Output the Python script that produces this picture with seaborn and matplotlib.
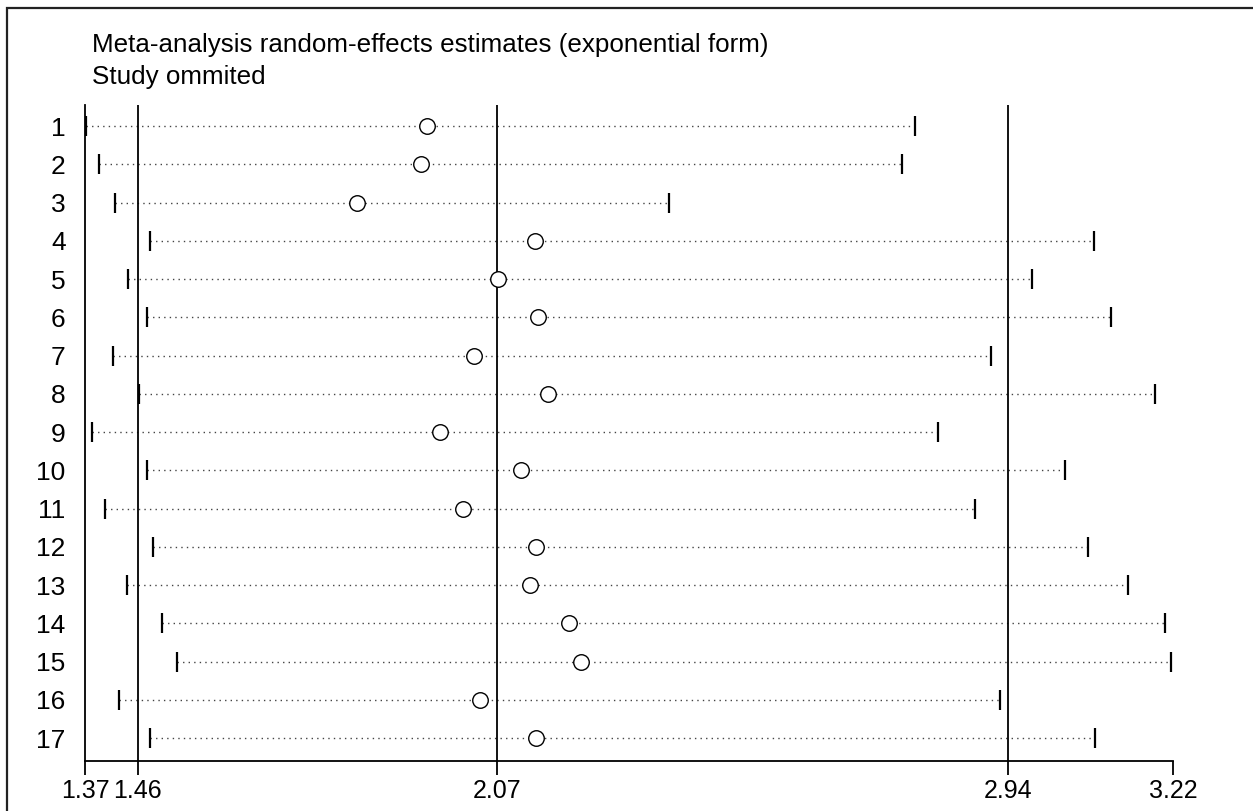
import numpy as np
import pandas as pd
import matplotlib
matplotlib.use("Agg")
import matplotlib.pyplot as plt
from matplotlib.patches import Rectangle
import seaborn as sns

# Study omitted (row label) and exp(estimate) with 95% CI
studies = list(range(1, 18))
estimate = [1.951, 1.942, 1.832, 2.136, 2.073, 2.141, 2.032, 2.158, 1.973,
            2.112, 2.012, 2.137, 2.127, 2.193, 2.214, 2.042, 2.137]
lower = [1.372, 1.393, 1.421, 1.480, 1.443, 1.475, 1.418, 1.462, 1.382,
         1.475, 1.404, 1.485, 1.441, 1.501, 1.526, 1.428, 1.480]
upper = [2.781, 2.759, 2.363, 3.085, 2.981, 3.114, 2.911, 3.190, 2.820,
         3.037, 2.884, 3.075, 3.143, 3.207, 3.217, 2.925, 3.087]

# reference lines / axis labels
ref_lines = [1.46, 2.07, 2.94]
xticks = [1.37, 1.46, 2.07, 2.94, 3.22]

df = pd.DataFrame({"study": studies, "est": estimate, "lo": lower, "hi": upper})

sns.set_theme(style="white")
plt.rcParams['font.family'] = ['Liberation Sans', 'DejaVu Sans']

fig = plt.figure(figsize=(12.53, 8.11), dpi=100)
ax = fig.add_axes([85 / 1253, 1 - 761 / 811, 1088 / 1253, 656 / 811])

# dotted CI lines
ax.hlines(df["study"], df["lo"], df["hi"], colors="#444444",
          linestyles=(0, (1, 3)), linewidth=1.0, zorder=1)

# reference lines
for v in ref_lines:
    ax.axvline(v, color="black", linewidth=1.3, zorder=2)

# CI end caps
ends = pd.concat([df[["study", "lo"]].rename(columns={"lo": "x"}),
                  df[["study", "hi"]].rename(columns={"hi": "x"})])
sns.scatterplot(data=ends, x="x", y="study", marker="|", s=200,
                color="black", linewidth=1.6, ax=ax, zorder=3, legend=False)

# estimates
sns.scatterplot(data=df, x="est", y="study", marker="o", s=125,
                facecolor="white", edgecolor="black", linewidth=1.0,
                ax=ax, zorder=4, legend=False)

ax.set_xlim(1.37, 3.22)
ax.set_ylim(17.6, 0.45)
ax.set_xticks(xticks)
ax.set_xticklabels([f"{t:.2f}" for t in xticks])
ax.set_yticks(studies)
ax.set_yticklabels([str(s) for s in studies])
ax.set_xlabel("")
ax.set_ylabel("")

for side in ["top", "right"]:
    ax.spines[side].set_visible(False)
for side in ["left", "bottom"]:
    ax.spines[side].set_color("black")
    ax.spines[side].set_linewidth(1.3)

ax.tick_params(axis="x", direction="out", length=10, width=1.3, color="black",
               labelsize=18, pad=3, bottom=True)
ax.tick_params(axis="y", length=0, labelsize=19, pad=14)
for lab in ax.get_xticklabels() + ax.get_yticklabels():
    lab.set_color("black")

# titles
fig.text(92 / 1253, 1 - 52 / 811,
         "Meta-analysis random-effects estimates (exponential form)",
         fontsize=18.7, va="baseline", ha="left", color="black")
fig.text(92 / 1253, 1 - 84 / 811, "Study ommited",
         fontsize=18.7, va="baseline", ha="left", color="black")

# outer frame (top and left edges visible)
fig.patches.append(Rectangle((7 / 1253, -0.1), 1.2, 1.1 - 8 / 811,
                             transform=fig.transFigure, fill=False,
                             edgecolor="#222222", linewidth=1.6))

fig.savefig("out.png", dpi=100)
